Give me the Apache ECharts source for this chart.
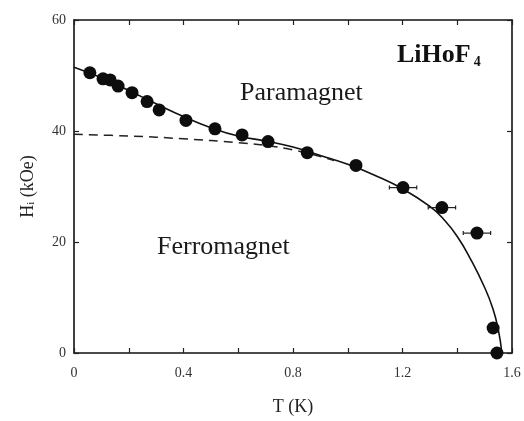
<!DOCTYPE html>
<html>
<head>
<meta charset="utf-8">
<script src="https://cdn.jsdelivr.net/npm/echarts@6/dist/echarts.min.js"></script>
<style>
  html, body { margin: 0; padding: 0; background: #ffffff; }
  #chart { width: 524px; height: 421px; }
</style>
</head>
<body>
<div id="chart"></div>
<script>
// Measured phase boundary of LiHoF4: temperature (K) and critical field (kOe)
const tempK = [0.058, 0.106, 0.132, 0.161, 0.212, 0.267, 0.311, 0.409, 0.515, 0.614,
               0.709, 0.852, 1.030, 1.202, 1.344, 1.472, 1.531, 1.545];
const fieldKOe = [50.5, 49.4, 49.2, 48.1, 46.9, 45.3, 43.8, 41.9, 40.4, 39.3,
                  38.1, 36.1, 33.8, 29.8, 26.2, 21.6, 4.5, 0.0];
// Horizontal temperature uncertainty (K); 0 means no bar drawn
const tempErr = [0, 0, 0, 0, 0, 0, 0, 0, 0, 0, 0, 0, 0, 0.05, 0.05, 0.05, 0, 0];

// Mean-field phase boundary (solid curve)
const mfT = [0, 0.1, 0.2, 0.3, 0.4, 0.5, 0.6, 0.7, 0.8, 0.9, 1.0, 1.1, 1.2, 1.3, 1.35,
             1.4, 1.45, 1.5, 1.53, 1.55, 1.563];
const mfH = [51.5, 49.6, 47.3, 44.9, 42.6, 40.6, 39.1, 38.2, 37.1, 35.6, 34.0, 32.0,
             29.6, 26.4, 24.1, 21.0, 16.8, 11.8, 8.0, 4.2, 0.0];

// Boundary without hyperfine coupling (dashed curve)
const hfT = [0, 0.2, 0.4, 0.6, 0.7, 0.8, 0.9, 0.95];
const hfH = [39.4, 39.1, 38.6, 37.9, 37.4, 36.6, 35.4, 34.7];

// Axis ticks
const xTicks = { min: 0, max: 1.6, step: 0.2 };
const yTicks = { min: 0, max: 60, step: 20 };

const serif = '"Liberation Serif", "DejaVu Serif", serif';
const zip = (a, b) => a.map((v, i) => [v, b[i]]);

const chart = echarts.init(document.getElementById('chart'), null, { renderer: 'canvas' });

const axisLine = { show: true, onZero: false, lineStyle: { color: '#111', width: 1.6 } };
const tickCommon = { show: true, inside: true, length: 5, lineStyle: { color: '#222', width: 1.2 } };

chart.setOption({
  backgroundColor: '#ffffff',
  animation: false,
  grid: { left: 74, right: 12, top: 20, bottom: 66 },
  xAxis: [
    {
      type: 'value', min: xTicks.min, max: xTicks.max, interval: xTicks.step,
      position: 'bottom',
      name: 'T (K)', nameLocation: 'middle', nameGap: 45,
      nameTextStyle: { fontFamily: serif, fontSize: 18, color: '#222' },
      axisLine: axisLine,
      axisTick: tickCommon,
      splitLine: { show: false },
      axisLabel: {
        fontFamily: serif, fontSize: 14, color: '#333', margin: 13,
        formatter: v => (Math.round(v * 10) % 4 === 0 ? String(Math.round(v * 10) / 10) : '')
      }
    },
    {
      type: 'value', min: xTicks.min, max: xTicks.max, interval: xTicks.step,
      position: 'top',
      axisLine: axisLine,
      axisTick: tickCommon,
      axisLabel: { show: false },
      splitLine: { show: false }
    }
  ],
  yAxis: [
    {
      type: 'value', min: yTicks.min, max: yTicks.max, interval: yTicks.step,
      position: 'left',
      name: '{m|H}{s|i}{m| (kOe)}', nameLocation: 'middle', nameGap: 37,
      nameTextStyle: {
        rich: {
          m: { fontFamily: serif, fontSize: 18, color: '#222' },
          s: { fontFamily: serif, fontSize: 11, color: '#222', verticalAlign: 'bottom', padding: [7, 0, 0, 0] }
        }
      },
      axisLine: axisLine,
      axisTick: tickCommon,
      splitLine: { show: false },
      axisLabel: { fontFamily: serif, fontSize: 14, color: '#333', margin: 8 }
    },
    {
      type: 'value', min: yTicks.min, max: yTicks.max, interval: yTicks.step,
      position: 'right',
      axisLine: axisLine,
      axisTick: tickCommon,
      axisLabel: { show: false },
      splitLine: { show: false }
    }
  ],
  series: [
    {
      name: 'mean field',
      type: 'line',
      data: zip(mfT, mfH),
      smooth: 0.5,
      showSymbol: false,
      lineStyle: { color: '#111', width: 1.6 },
      z: 2
    },
    {
      name: 'no hyperfine',
      type: 'line',
      data: zip(hfT, hfH),
      smooth: 0.4,
      showSymbol: false,
      lineStyle: { color: '#222', width: 1.5, type: [9, 6] },
      z: 2
    },
    {
      name: 'error bars',
      type: 'custom',
      data: tempK.map((t, i) => [t, fieldKOe[i], tempErr[i]]).filter(d => d[2] > 0),
      renderItem: (params, api) => {
        const t = api.value(0), h = api.value(1), e = api.value(2);
        const a = api.coord([t - e, h]);
        const b = api.coord([t + e, h]);
        const style = { stroke: '#222', lineWidth: 1.2 };
        return {
          type: 'group',
          children: [
            { type: 'line', shape: { x1: a[0], y1: a[1], x2: b[0], y2: b[1] }, style },
            { type: 'line', shape: { x1: a[0], y1: a[1] - 2, x2: a[0], y2: a[1] + 2 }, style },
            { type: 'line', shape: { x1: b[0], y1: b[1] - 2, x2: b[0], y2: b[1] + 2 }, style }
          ]
        };
      },
      z: 3
    },
    {
      name: 'measured',
      type: 'scatter',
      data: zip(tempK, fieldKOe),
      symbol: 'circle',
      symbolSize: 13,
      itemStyle: { color: '#0d0d0d', opacity: 1 },
      z: 4
    }
  ],
  graphic: [
    {
      type: 'text', left: 397, top: 42,
      style: {
        text: '{b|LiHoF}{s|4}',
        rich: {
          b: { fontFamily: serif, fontSize: 26, fontWeight: 'bold', fill: '#111' },
          s: { fontFamily: serif, fontSize: 14, fontWeight: 'bold', fill: '#111', padding: [15, 0, 0, 3] }
        }
      }
    },
    {
      type: 'text', left: 240, top: 80,
      style: { text: 'Paramagnet', fontFamily: serif, fontSize: 26, fill: '#1a1a1a' }
    },
    {
      type: 'text', left: 157, top: 234,
      style: { text: 'Ferromagnet', fontFamily: serif, fontSize: 26, fill: '#1a1a1a' }
    }
  ]
});
</script>
</body>
</html>
